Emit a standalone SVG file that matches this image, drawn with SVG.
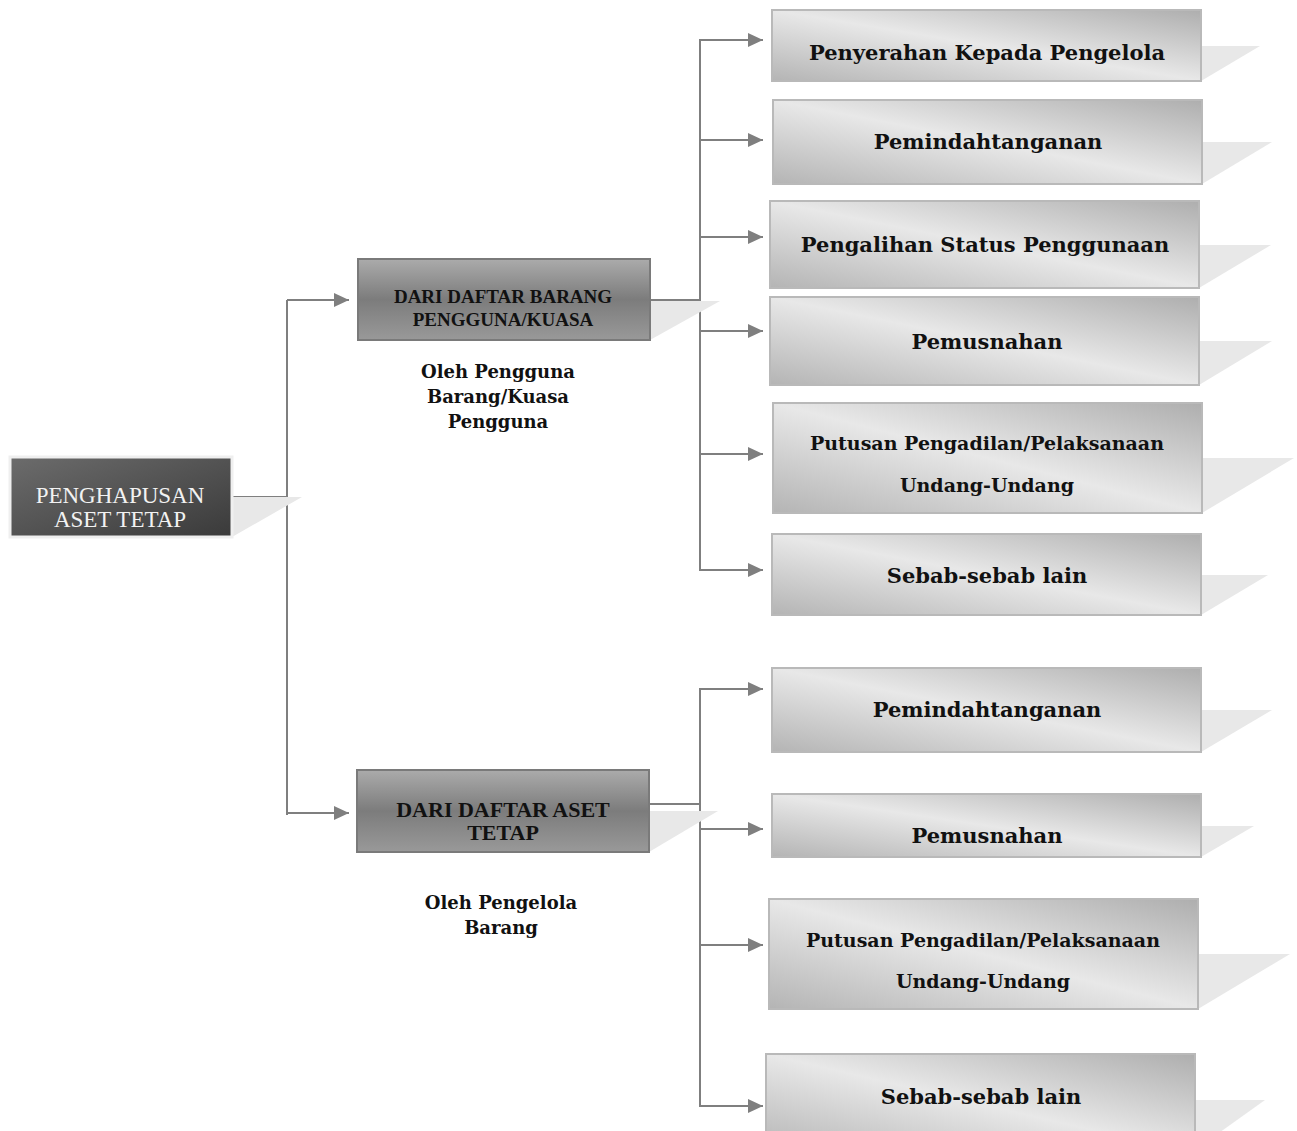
<svg xmlns="http://www.w3.org/2000/svg" width="1297" height="1131" viewBox="0 0 1297 1131">
  <defs>
    <linearGradient id="gRoot" x1="0" y1="0" x2="1" y2="1">
      <stop offset="0" stop-color="#6c6c6c"/>
      <stop offset="1" stop-color="#3a3a3a"/>
    </linearGradient>
    <linearGradient id="gMid" x1="0" y1="0" x2="0" y2="1">
      <stop offset="0" stop-color="#ababab"/>
      <stop offset="0.5" stop-color="#7c7c7c"/>
      <stop offset="1" stop-color="#999999"/>
    </linearGradient>
    <linearGradient id="gLeaf" x1="0" y1="1" x2="1" y2="0">
      <stop offset="0" stop-color="#b4b4b4"/>
      <stop offset="0.5" stop-color="#e8e8e8"/>
      <stop offset="1" stop-color="#aeaeae"/>
    </linearGradient>
    <marker id="arrow" markerWidth="15" markerHeight="14" refX="15" refY="7" orient="auto" markerUnits="userSpaceOnUse">
      <path d="M0,0 L15,7 L0,14 Z" fill="#7f7f7f"/>
    </marker>
  </defs>
  <style>
    .shadow { fill: #e8e8e8; }
    .root { fill: url(#gRoot); stroke: #efefef; stroke-width: 3; }
    .mid { fill: url(#gMid); stroke: #7a7a7a; stroke-width: 2; }
    .leaf { fill: url(#gLeaf); stroke: #b9b9b9; stroke-width: 2; }
    .conn { fill: none; stroke: #7f7f7f; stroke-width: 2; }
    .arr { fill: none; stroke: #7f7f7f; stroke-width: 2; marker-end: url(#arrow); }
    .tRoot { font-family: "Liberation Serif", serif; font-size: 23px; fill: #f2f2f2; text-anchor: middle; }
    .tMid { font-family: "Liberation Serif", serif; font-weight: bold; fill: #111; text-anchor: middle; }
    .tLeaf { font-family: "DejaVu Serif", serif; font-weight: bold; font-size: 21px; fill: #111; text-anchor: middle; }
    .tLeafS { font-family: "DejaVu Serif", serif; font-weight: bold; font-size: 19px; fill: #111; text-anchor: middle; }
    .tLabel { font-family: "DejaVu Serif", serif; font-weight: bold; font-size: 18px; fill: #111; text-anchor: middle; }
  </style>

  <!-- connectors -->
  <g id="connectors">
    <path class="conn" d="M232,497 H287 M287,300 V815"/>
    <path class="arr" d="M287,300 H349"/>
    <path class="arr" d="M287,813 H349"/>

    <path class="conn" d="M650,300 H700 M700,39 V571"/>
    <path class="arr" d="M700,40 H763"/>
    <path class="arr" d="M700,140 H763"/>
    <path class="arr" d="M700,237 H763"/>
    <path class="arr" d="M700,331 H763"/>
    <path class="arr" d="M700,454 H763"/>
    <path class="arr" d="M700,570 H763"/>

    <path class="conn" d="M649,804 H700 M700,688 V1107"/>
    <path class="arr" d="M700,689 H763"/>
    <path class="arr" d="M700,829 H763"/>
    <path class="arr" d="M700,945 H763"/>
    <path class="arr" d="M700,1106 H763"/>
  </g>

  <!-- root -->
  <g id="root">
    <polygon class="shadow" points="232,497 302,497 232,537"/>
    <rect class="root" x="10" y="457" width="222" height="80"/>
    <text class="tRoot" x="120" y="503">PENGHAPUSAN</text>
    <text class="tRoot" x="120" y="527">ASET TETAP</text>
  </g>

  <!-- second level -->
  <g id="dari-barang">
    <polygon class="shadow" points="650,301 720,301 650,340"/>
    <rect class="mid" x="358" y="259" width="292" height="81"/>
    <text class="tMid" x="503" y="303" font-size="19">DARI DAFTAR BARANG</text>
    <text class="tMid" x="503" y="326" font-size="19">PENGGUNA/KUASA</text>
  </g>
  <g id="label-pengguna">
    <text class="tLabel" x="498" y="378">Oleh Pengguna</text>
    <text class="tLabel" x="498" y="403">Barang/Kuasa</text>
    <text class="tLabel" x="498" y="428">Pengguna</text>
  </g>

  <g id="dari-aset">
    <polygon class="shadow" points="649,811 718,811 649,852"/>
    <rect class="mid" x="357" y="770" width="292" height="82"/>
    <text class="tMid" x="503" y="817" font-size="22">DARI DAFTAR ASET</text>
    <text class="tMid" x="503" y="840" font-size="22">TETAP</text>
  </g>
  <g id="label-pengelola">
    <text class="tLabel" x="501" y="909">Oleh Pengelola</text>
    <text class="tLabel" x="501" y="934">Barang</text>
  </g>

  <!-- leaves of "DARI DAFTAR BARANG PENGGUNA/KUASA" -->
  <g id="b-penyerahan">
    <polygon class="shadow" points="1201,46 1260,46 1201,81"/>
    <rect class="leaf" x="772" y="10" width="429" height="71"/>
    <text class="tLeaf" x="987" y="60">Penyerahan Kepada Pengelola</text>
  </g>
  <g id="b-pemindahtanganan">
    <polygon class="shadow" points="1202,142 1272,142 1202,184"/>
    <rect class="leaf" x="773" y="100" width="429" height="84"/>
    <text class="tLeaf" x="988" y="149">Pemindahtanganan</text>
  </g>
  <g id="b-pengalihan">
    <polygon class="shadow" points="1199,245 1271,245 1199,288"/>
    <rect class="leaf" x="770" y="201" width="429" height="87"/>
    <text class="tLeaf" x="985" y="252">Pengalihan Status Penggunaan</text>
  </g>
  <g id="b-pemusnahan">
    <polygon class="shadow" points="1199,341 1272,341 1199,385"/>
    <rect class="leaf" x="770" y="297" width="429" height="88"/>
    <text class="tLeaf" x="987" y="349">Pemusnahan</text>
  </g>
  <g id="b-putusan">
    <polygon class="shadow" points="1202,458 1294,458 1202,513"/>
    <rect class="leaf" x="773" y="403" width="429" height="110"/>
    <text class="tLeafS" x="987" y="450">Putusan Pengadilan/Pelaksanaan</text>
    <text class="tLeafS" x="987" y="492">Undang-Undang</text>
  </g>
  <g id="b-sebab">
    <polygon class="shadow" points="1201,575 1268,575 1201,615"/>
    <rect class="leaf" x="772" y="534" width="429" height="81"/>
    <text class="tLeaf" x="987" y="583">Sebab-sebab lain</text>
  </g>

  <!-- leaves of "DARI DAFTAR ASET TETAP" -->
  <g id="a-pemindahtanganan">
    <polygon class="shadow" points="1201,710 1272,710 1201,752"/>
    <rect class="leaf" x="772" y="668" width="429" height="84"/>
    <text class="tLeaf" x="987" y="717">Pemindahtanganan</text>
  </g>
  <g id="a-pemusnahan">
    <polygon class="shadow" points="1201,826 1254,826 1201,857"/>
    <rect class="leaf" x="772" y="794" width="429" height="63"/>
    <text class="tLeaf" x="987" y="843">Pemusnahan</text>
  </g>
  <g id="a-putusan">
    <polygon class="shadow" points="1198,954 1290,954 1198,1009"/>
    <rect class="leaf" x="769" y="899" width="429" height="110"/>
    <text class="tLeafS" x="983" y="947">Putusan Pengadilan/Pelaksanaan</text>
    <text class="tLeafS" x="983" y="988">Undang-Undang</text>
  </g>
  <g id="a-sebab">
    <polygon class="shadow" points="1195,1100 1265,1100 1195,1150"/>
    <rect class="leaf" x="766" y="1054" width="429" height="100"/>
    <text class="tLeaf" x="981" y="1104">Sebab-sebab lain</text>
  </g>
</svg>
